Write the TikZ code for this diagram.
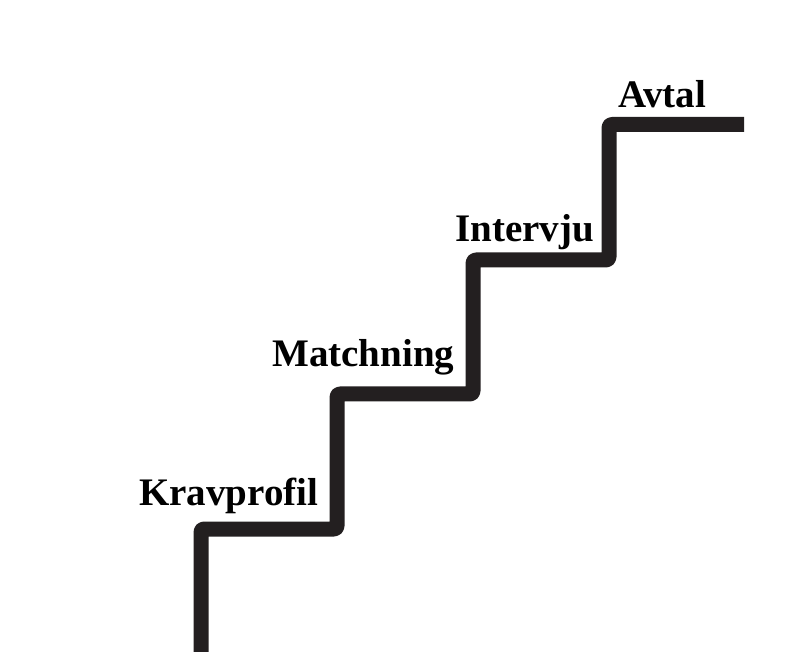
\documentclass[tikz,border=0pt]{standalone}
\usepackage{fontspec}
\setmainfont{Liberation Serif}
\definecolor{stair}{HTML}{231F20}
\begin{document}
\begin{tikzpicture}[x=1pt,y=1pt,
  stairline/.style={draw=stair,line width=15pt,rounded corners=3pt,line join=round},
  steplabel/.style={anchor=base west,inner sep=0pt,font=\fontsize{39}{39}\selectfont\bfseries,text=black}]
\useasboundingbox (0,0) rectangle (795,651);
\coordinate (s0) at (201,-10);
\coordinate (c1) at (201,122);
\coordinate (c2) at (337,122);
\coordinate (c3) at (337,257);
\coordinate (c4) at (473,257);
\coordinate (c5) at (473,391);
\coordinate (c6) at (609,391);
\coordinate (c7) at (609,526.5);
\coordinate (s8) at (744,526.5);
\draw[stairline] (s0) -- (c1) -- (c2) -- (c3) -- (c4) -- (c5) -- (c6) -- (c7) -- (s8);
\node[steplabel] (kravprofil) at (139,146) {Kravprofil};
\node[steplabel] (matchning) at (272,284) {Matchning};
\node[steplabel] (intervju) at (455,409) {Intervju};
\node[steplabel] (avtal) at (618,543) {Avtal};
\end{tikzpicture}
\end{document}
